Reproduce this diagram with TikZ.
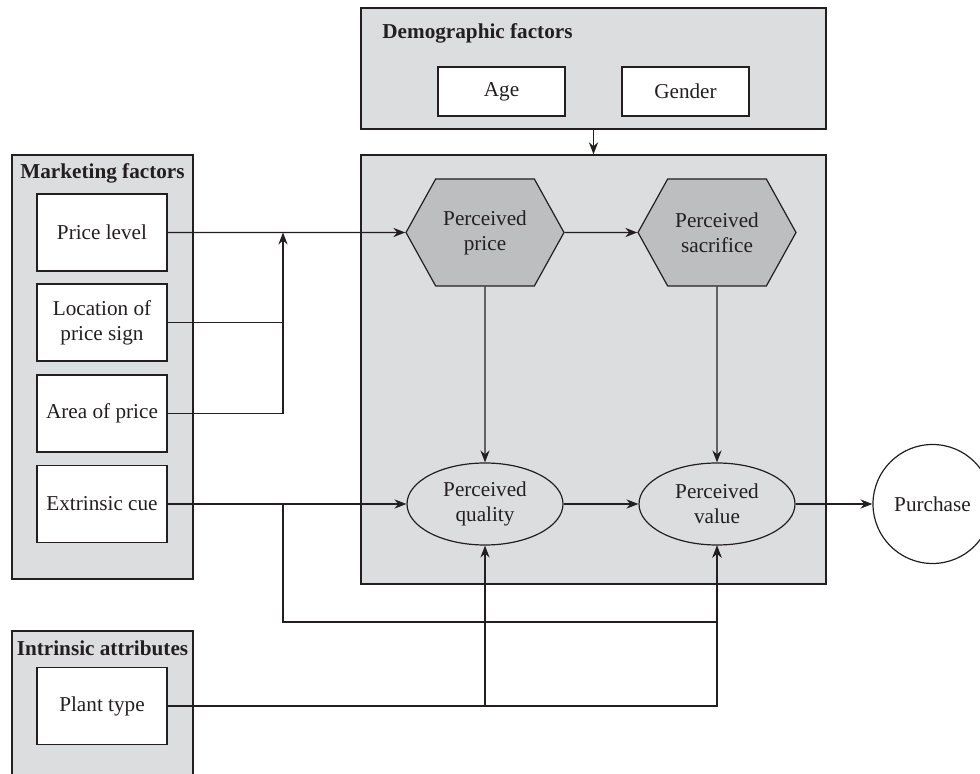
\documentclass[tikz,border=0pt]{standalone}
\usepackage{fontspec}
\setmainfont{Liberation Serif}
\usetikzlibrary{arrows.meta,shapes.geometric,shapes.symbols}
\definecolor{panelgray}{HTML}{DCDDDF}
\definecolor{hexgray}{HTML}{BDBEC0}
\definecolor{ink}{HTML}{231F20}

\begin{document}
\begin{tikzpicture}[x=0.5pt,y=-0.5pt,
    font=\fontsize{10.6}{12.5}\selectfont,
    every node/.style={text=ink, inner sep=0pt},
    panel/.style={rectangle, draw=ink, fill=panelgray, line width=0.7pt},
    factor/.style={rectangle, draw=ink, fill=white, line width=0.7pt,
      minimum width=65pt, minimum height=38.5pt, align=center},
    heading/.style={font=\fontsize{10.6}{12.5}\selectfont\bfseries},
    percept/.style={shape=signal, signal to=east and west, signal pointer angle=122,
      draw=ink, fill=hexgray, line width=0.6pt, minimum width=79pt, minimum height=53.5pt, align=center},
    outcome/.style={ellipse, draw=ink, fill=panelgray, line width=0.6pt,
      minimum width=78pt, minimum height=41pt, align=center},
    link/.style={draw=ink, line width=0.65pt},
    >={Stealth[length=6pt,width=4.6pt]}]
   \clip (0,0) rectangle (980,774);

   % panels
   \node[panel, minimum width=232.5pt, minimum height=60.5pt] (demo) at (593.5,68.5) {};
   \node[panel, minimum width=232.5pt, minimum height=214.5pt] (core) at (593.5,369.5) {};
   \node[panel, minimum width=90.5pt, minimum height=212pt] (marketing) at (102.5,367) {};
   \node[panel, minimum width=90.5pt, minimum height=100pt] (intrinsic) at (102.5,731) {};

   \node[heading, anchor=west] (demotitle) at (382,33) {Demographic factors};
   \node[heading] (marktitle) at (102.5,173) {Marketing factors};
   \node[heading] (intrtitle) at (102.5,648) {Intrinsic attributes};

   % factors
   \node[factor, minimum width=63.5pt, minimum height=24.5pt] (age) at (501.5,91.5) {Age};
   \node[factor, minimum width=63.5pt, minimum height=24.5pt] (gender) at (685.5,91.5) {Gender};
   \node[factor] (price) at (102,232.5) {Price level};
   \node[factor] (location) at (102,322.5) {Location of\\price sign};
   \node[factor] (area) at (102,413.5) {Area of price};
   \node[factor] (extrinsic) at (102,504) {Extrinsic cue};
   \node[factor] (plant) at (102,706) {Plant type};

   % perceptions
   \node[percept] (pprice) at (485,232.5) {Perceived\\price};
   \node[percept] (psacrifice) at (717,232.5) {Perceived\\sacrifice};
   \node[outcome] (pquality) at (485,504) {Perceived\\quality};
   \node[outcome] (pvalue) at (717,504) {Perceived\\value};
   \node[circle, draw=ink, line width=0.6pt, minimum size=59.5pt] (purchase) at (932.5,504) {Purchase};

   \coordinate (pricejoin) at (283,232.5);
   \coordinate (cuesplit) at (283,504);
   \coordinate (cuebend) at (283,622);

   \draw[link,->] (price) -- (pprice);
   \draw[link] (location.east) -- (location.east -| pricejoin);
   \draw[link,->] (area.east) -| (pricejoin);
   \draw[link,->] (pprice) -- (psacrifice);
   \draw[link,->] (pprice) -- (pquality);
   \draw[link,->] (psacrifice) -- (pvalue);
   \draw[link,->] (pquality) -- (pvalue);
   \draw[link,->] (pvalue) -- (purchase);
   \draw[link,->] (extrinsic) -- (pquality);
   \draw[link,->] (cuesplit) -- (cuebend) -| (pvalue.south);
   \draw[link,->] (plant.east) -| (pquality.south);
   \draw[link,->] (plant.east) -| (pvalue.south);
   \draw[link,->] (demo) -- (core);
 \end{tikzpicture}
\end{document}
